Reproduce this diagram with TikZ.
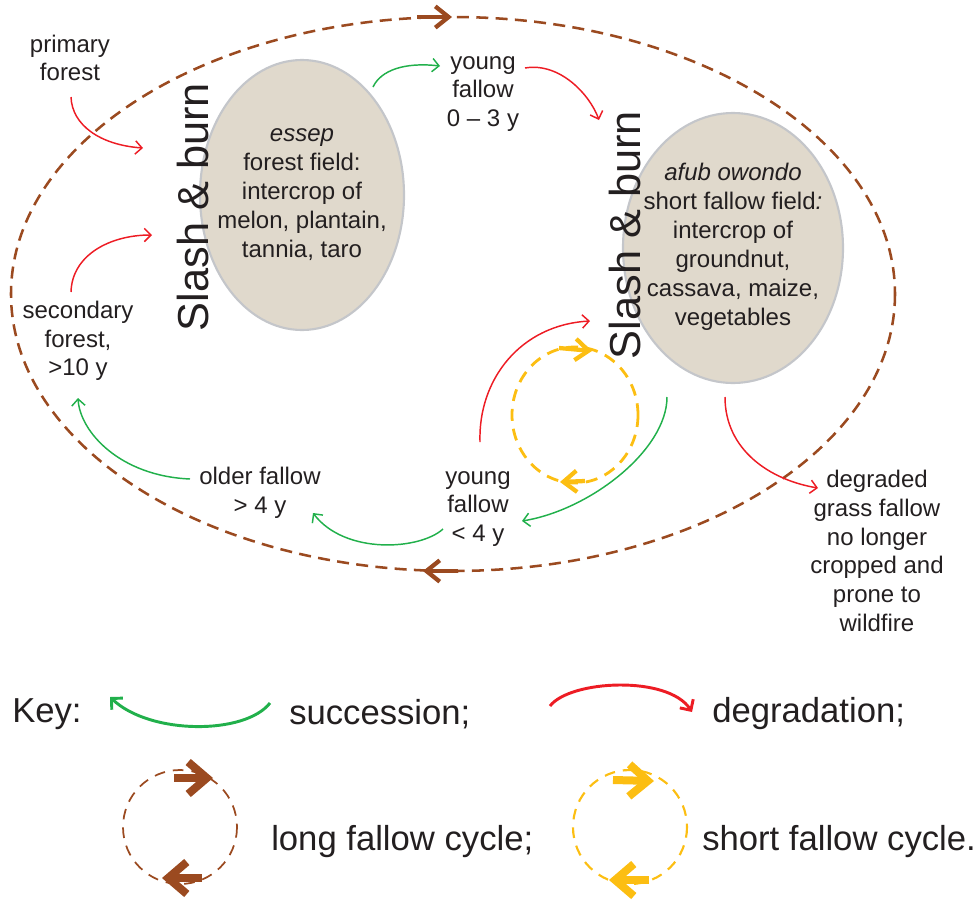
\documentclass[tikz,border=0pt]{standalone}
\usepackage{fontspec}
\setmainfont{Liberation Sans}
\usetikzlibrary{arrows.meta,shapes.geometric}
\definecolor{txt}{RGB}{35,31,32}
\definecolor{fieldfill}{RGB}{224,217,204}
\definecolor{fieldline}{RGB}{196,198,202}
\definecolor{succ}{RGB}{33,176,75}
\definecolor{degr}{RGB}{237,28,36}
\definecolor{longc}{RGB}{155,74,32}
\definecolor{shortc}{RGB}{252,190,18}
\begin{document}
\begin{tikzpicture}[x=0.75pt,y=-0.75pt,
  lbl/.style={font=\fontsize{18}{21.5}\selectfont, text=txt, align=center, inner sep=0pt},
  fieldtext/.style={font=\fontsize{18}{21.75}\selectfont, text=txt, align=center, inner sep=0pt},
  keylbl/.style={font=\fontsize{26}{30}\selectfont, text=txt, anchor=west, inner sep=0pt},
  slashlbl/.style={font=\fontsize{32.5}{36}\selectfont, text=txt, rotate=90, anchor=base, inner sep=0pt},
  field/.style={ellipse, fill=fieldfill, draw=fieldline, line width=1.6pt, inner sep=0pt, outer sep=0pt},
  succarrow/.style={draw=succ, line width=1.1pt, -{Straight Barb[length=5pt,width=10pt]}},
  degarrow/.style={draw=degr, line width=1.1pt, -{Straight Barb[length=5pt,width=10pt]}},
  keysucc/.style={draw=succ, line width=2.2pt, -{Straight Barb[length=6pt,width=12pt]}},
  keydeg/.style={draw=degr, line width=2.2pt, -{Straight Barb[length=6pt,width=12pt]}},
  longcycle/.style={draw=longc, line width=1.9pt, dash pattern=on 9pt off 5.5pt},
  shortcycle/.style={draw=shortc, line width=2.1pt, dash pattern=on 9pt off 6pt},
  keylong/.style={draw=longc, line width=1.3pt, dash pattern=on 8pt off 6pt},
  keyshort/.style={draw=shortc, line width=1.6pt, dash pattern=on 8pt off 6pt},
  bigtip/.style={line width=3.2pt, -{Straight Barb[length=10pt,width=16pt]}},
  keytip/.style={line width=6pt, -{Straight Barb[length=14pt,width=24pt]}},
]
\useasboundingbox (0,0) rectangle (976,900);

% long fallow cycle (outer dashed ellipse)
\draw[longcycle] (453,294) ellipse [x radius=442, y radius=277];
\coordinate (ltopA) at (417,17);
\coordinate (ltopB) at (452,17);
\coordinate (lbotA) at (458,571);
\coordinate (lbotB) at (423,571);
\draw[longc, bigtip] (ltopA) -- (ltopB);
\draw[longc, bigtip] (lbotA) -- (lbotB);

% short fallow cycle (yellow dashed)
\draw[shortcycle] (575,415) ellipse [x radius=63, y radius=68];
\coordinate (stopA) at (559,348);
\coordinate (stopB) at (592,351);
\coordinate (sbotA) at (585,481);
\coordinate (sbotB) at (560,482);
\draw[shortc, bigtip] (stopA) -- (stopB);
\draw[shortc, bigtip] (sbotA) -- (sbotB);

% fields
\node[field, minimum width=153pt, minimum height=202.5pt] (essep) at (302,195) {};
\node[fieldtext] (esseptext) at (essep.center)
  {\textit{essep}\\forest field:\\intercrop of\\melon, plantain,\\tannia, taro};
\node[field, minimum width=165pt, minimum height=202.5pt] (afub) at (733,248) {};
\node[fieldtext] (afubtext) at ([yshift=0.75pt]afub.center)
  {\textit{afub owondo}\\short fallow field\textit{:}\\intercrop of\\groundnut,\\cassava, maize,\\vegetables};

% slash & burn
\node[slashlbl] (slash1) at (208,207) {Slash \& burn};
\node[slashlbl] (slash2) at (640,235) {Slash \& burn};

% labels
\node[lbl] (primary) at (70,58) {primary\\forest};
\node[lbl] (young1) at (483,94) {young\\fallow\\0 -- 3 y};
\node[lbl] (secondary) at (78,341) {secondary\\forest,\\>10 y};
\node[lbl] (older) at (260,493) {older fallow\\> 4 y};
\node[lbl] (young2) at (478,509) {young\\fallow\\< 4 y};
\node[lbl] (degraded) at (877,551) {degraded\\grass fallow\\no longer\\cropped and\\prone to\\wildfire};

% connector end points
\coordinate (e1s) at (373,87);   \coordinate (e1e) at (440,66);
\coordinate (e2s) at (190,479);  \coordinate (e2e) at (78,398);
\coordinate (e3s) at (443,529);  \coordinate (e3e) at (313,513);
\coordinate (e4s) at (667,397);  \coordinate (e4e) at (522,521);
\coordinate (r1s) at (71,97);    \coordinate (r1e) at (143,148);
\coordinate (r2s) at (71,292);   \coordinate (r2e) at (152,235);
\coordinate (r3s) at (525,68);   \coordinate (r3e) at (599,120);
\coordinate (r4s) at (480,442);  \coordinate (r4e) at (590,321);
\coordinate (r5s) at (725,397);  \coordinate (r5e) at (818,488);

% succession
\draw[succarrow] (e1s) .. controls (381,70) and (405,62) .. (e1e);
\draw[succarrow] (e2s) .. controls (120,476) and (80,432) .. (e2e);
\draw[succarrow] (e3s) .. controls (420,550) and (345,555) .. (e3e);
\draw[succarrow] (e4s) .. controls (667,450) and (590,510) .. (e4e);

% degradation
\draw[degarrow] (r1s) .. controls (72,125) and (100,145) .. (r1e);
\draw[degarrow] (r2s) .. controls (72,255) and (110,235) .. (r2e);
\draw[degarrow] (r3s) .. controls (560,62) and (590,95) .. (r3e);
\draw[degarrow] (r4s) .. controls (478,380) and (520,325) .. (r4e);
\draw[degarrow] (r5s) .. controls (725,450) and (770,480) .. (r5e);

% key
\node[keylbl] (key) at (12,714) {Key:};
\coordinate (k1s) at (270,703); \coordinate (k1e) at (110,697);
\draw[keysucc] (k1s) .. controls (245,735) and (150,735) .. (k1e);
\node[keylbl] (ksucc) at (289,714) {succession;};
\coordinate (k2s) at (550,706); \coordinate (k2e) at (692,712);
\draw[keydeg] (k2s) .. controls (570,680) and (668,675) .. (k2e);
\node[keylbl] (kdeg) at (712,714) {degradation;};

\draw[keylong] (180,827) circle [radius=57];
\coordinate (kl1a) at (174,778); \coordinate (kl1b) at (213,778);
\coordinate (kl2a) at (202,878); \coordinate (kl2b) at (162,878);
\draw[longc, keytip] (kl1a) -- (kl1b);
\draw[longc, keytip] (kl2a) -- (kl2b);
\node[keylbl] (klong) at (271,842) {long fallow cycle;};

\draw[keyshort] (630,827) circle [radius=57];
\coordinate (ks1a) at (613,780); \coordinate (ks1b) at (654,781);
\coordinate (ks2a) at (649,880); \coordinate (ks2b) at (609,880);
\draw[shortc, keytip] (ks1a) -- (ks1b);
\draw[shortc, keytip] (ks2a) -- (ks2b);
\node[keylbl] (kshort) at (702,842) {short fallow cycle.};
\end{tikzpicture}
\end{document}
